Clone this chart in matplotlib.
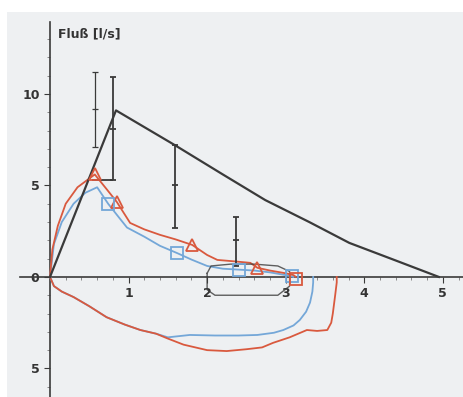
import matplotlib.pyplot as plt
from matplotlib.ticker import MultipleLocator, FixedLocator

# predicted flow-volume curve (black)
pred_x = [0, 0.84, 1.59, 2.2, 2.74, 3.3, 3.81, 4.4, 4.95]
pred_y = [0, 9.1, 7.2, 5.6, 4.2, 3.0, 1.86, 0.9, 0]

# normal range bars
sd_x = [0.57, 0.8, 1.59, 2.37]
sd_top = [11.2, 10.9, 7.2, 3.3]
sd_bot = [7.1, 5.3, 2.7, 0.6]
sd_mid = [9.2, 8.1, 5.0, 2.0]

# measurement 1 (red)
red_ex_x = [0, 0.03, 0.1, 0.2, 0.35, 0.57, 0.72, 0.85, 1.02, 1.2, 1.4, 1.6, 1.81,
            2.0, 2.13, 2.35, 2.55, 2.64, 2.8, 3.0, 3.1, 3.13]
red_ex_y = [0, 1.5, 2.8, 4.0, 4.9, 5.6, 4.8, 4.1, 2.95, 2.6, 2.3, 2.05, 1.75,
            1.2, 0.93, 0.85, 0.77, 0.5, 0.35, 0.2, 0.1, 0]
red_in_x = [0, 0.05, 0.15, 0.3, 0.5, 0.72, 0.95, 1.15, 1.35, 1.49, 1.7, 2.0, 2.25,
            2.5, 2.7, 2.84, 3.05, 3.27, 3.4, 3.53, 3.58, 3.6, 3.63, 3.65, 3.65]
red_in_y = [0, -0.5, -0.8, -1.1, -1.6, -2.2, -2.6, -2.9, -3.1, -3.35, -3.7, -4.0, -4.05,
            -3.95, -3.85, -3.6, -3.3, -2.9, -2.95, -2.9, -2.5, -2.0, -1.0, -0.3, 0]
red_tri_x = [0.57, 0.85, 1.81, 2.64]
red_tri_y = [5.6, 4.1, 1.75, 0.5]

# measurement 2 (blue)
blue_ex_x = [0, 0.05, 0.15, 0.3, 0.45, 0.6, 0.74, 0.85, 0.98, 1.2, 1.4, 1.62, 1.8,
             2.0, 2.2, 2.4, 2.6, 2.8, 3.0, 3.1]
blue_ex_y = [0, 1.8, 3.0, 4.0, 4.6, 4.9, 4.0, 3.4, 2.7, 2.2, 1.7, 1.3, 0.95,
             0.6, 0.45, 0.4, 0.35, 0.25, 0.1, 0]
blue_in_x = [0, 0.05, 0.15, 0.3, 0.5, 0.72, 0.95, 1.15, 1.35, 1.5, 1.78, 2.1, 2.4,
             2.64, 2.85, 2.97, 3.1, 3.18, 3.26, 3.31, 3.34, 3.35, 3.35]
blue_in_y = [0, -0.5, -0.8, -1.1, -1.6, -2.2, -2.6, -2.9, -3.1, -3.3, -3.17, -3.2, -3.2,
             -3.17, -3.05, -2.9, -2.65, -2.35, -1.9, -1.4, -0.8, -0.3, 0]
blue_sq_x = [0.74, 1.62, 2.4, 3.08]
blue_sq_y = [4.0, 1.3, 0.4, 0.05]

# tidal loop
tidal_x = [2.0, 2.05, 2.3, 2.6, 2.9, 3.05, 3.05, 2.9, 2.5, 2.1, 2.0, 2.0]
tidal_y = [0.2, 0.6, 0.7, 0.7, 0.6, 0.3, -0.5, -1.0, -1.0, -1.0, -0.7, 0.2]

RED = "#d9593e"
BLUE = "#74a7d8"
DARK = "#3a3a3a"

fig = plt.figure(figsize=(4.64, 3.97), dpi=100)
fig.patch.set_facecolor("white")

# grey scanned panel
bg = fig.add_axes([7/464, 0, 457/464, 1 - 12/397])
bg.set_facecolor("#eef0f2")
bg.set_xticks([])
bg.set_yticks([])
for s in bg.spines.values():
    s.set_visible(False)

ax = fig.add_axes([20/464, 0, 444/464, 1 - 22/397])
ax.set_facecolor("none")
ax.set_xlim(-0.382, 5.27)
ax.set_ylim(-6.56, 13.93)

for s in ["top", "right"]:
    ax.spines[s].set_visible(False)
ax.spines["left"].set_position(("data", 0))
ax.spines["bottom"].set_position(("data", 0))
ax.spines["left"].set_color(DARK)
ax.spines["bottom"].set_color(DARK)
ax.spines["left"].set_linewidth(1.2)
ax.spines["bottom"].set_linewidth(1.2)

ax.xaxis.set_major_locator(FixedLocator([1, 2, 3, 4, 5]))
ax.xaxis.set_minor_locator(MultipleLocator(0.2))
ax.yaxis.set_major_locator(FixedLocator([-5, 0, 5, 10]))
ax.yaxis.set_minor_locator(MultipleLocator(1))
ax.set_yticklabels(["5", "0", "5", "10"])
ax.tick_params(axis="both", which="major", length=4, color=DARK, labelcolor="#333333",
               labelsize=9)
ax.tick_params(axis="both", which="minor", length=2, color="#777777")
for lbl in ax.get_xticklabels() + ax.get_yticklabels():
    lbl.set_fontweight("bold")

# predicted curve and ranges
ax.plot(pred_x, pred_y, color=DARK, lw=1.6, zorder=4)
for i in range(len(sd_x)):
    lw = 0.9 if i == 0 else 1.3
    ax.vlines(sd_x[i], sd_bot[i], sd_top[i], color=DARK, lw=lw, zorder=4)
    ax.hlines([sd_top[i], sd_bot[i]], sd_x[i] - 0.04, sd_x[i] + 0.04, color=DARK, lw=lw, zorder=4)
    ax.hlines(sd_mid[i], sd_x[i] - 0.04, sd_x[i] + 0.04, color=DARK, lw=lw, zorder=4)
ax.hlines(sd_bot[1], 0.53, sd_x[1], color=DARK, lw=1.3, zorder=4)

# measured loops
ax.plot(blue_in_x, blue_in_y, color=BLUE, lw=1.3, zorder=3)
ax.plot(red_in_x, red_in_y, color=RED, lw=1.3, zorder=3)
ax.plot(blue_ex_x, blue_ex_y, color=BLUE, lw=1.3, zorder=3)
ax.plot(red_ex_x, red_ex_y, color=RED, lw=1.3, zorder=3)
ax.plot(tidal_x, tidal_y, color=DARK, lw=1.0, alpha=0.8, zorder=3)
ax.plot(red_tri_x, red_tri_y, linestyle="none", marker="^", ms=9, mfc="none",
        mec=RED, mew=1.3, zorder=5)
ax.plot(blue_sq_x, blue_sq_y, linestyle="none", marker="s", ms=8, mfc="none",
        mec=BLUE, mew=1.3, zorder=5)
ax.plot([3.13], [-0.1], linestyle="none", marker="s", ms=9, mfc="none",
        mec=RED, mew=1.3, zorder=5)

ax.text(0.1, 13.3, "Flu\u00df [l/s]", fontsize=9, fontweight="bold", color="#333333",
        ha="left", va="center")

fig.savefig("out.png", dpi=100)
